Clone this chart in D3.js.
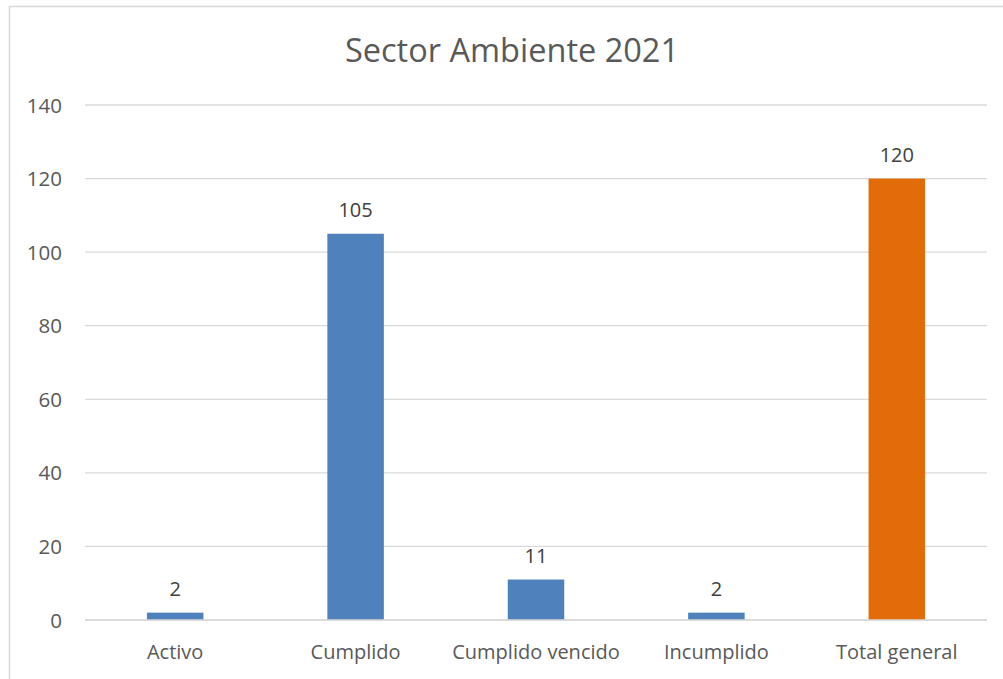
<!DOCTYPE html>
<html>
<head>
<meta charset="utf-8">
<script src="https://cdn.jsdelivr.net/npm/d3@7"></script>
<style>
  body { margin: 0; background: #fff; }
  svg text { font-family: "Open Sans", sans-serif; }
</style>
</head>
<body>
<div class="content"></div>
<script>
const SVG_W = 1003;
const SVG_H = 679;

// chart data
const categories = ["Activo", "Cumplido", "Cumplido vencido", "Incumplido", "Total general"];
const values = [2, 105, 11, 2, 120];
const barColors = ["#4f81bd", "#4f81bd", "#4f81bd", "#4f81bd", "#e36c0a"];
const yTicks = [0, 20, 40, 60, 80, 100, 120, 140];
const chartTitle = "Sector Ambiente 2021";

const svg = d3.select(".content").append("svg")
    .attr("width", SVG_W).attr("height", SVG_H);

// chart frame (runs off the right/bottom edge)
svg.append("rect")
    .attr("x", 9.5).attr("y", 6.5)
    .attr("width", SVG_W + 20).attr("height", SVG_H + 20)
    .attr("fill", "#fff").attr("stroke", "#d9d9d9").attr("stroke-width", 1.5);

// title
svg.append("text")
    .attr("x", 512).attr("y", 62)
    .attr("text-anchor", "middle")
    .attr("font-size", 32.5)
    .attr("fill", "#595959")
    .text(chartTitle);

const plotL = 85, plotR = 987, plotT = 105, plotB = 620;

const x = d3.scaleBand().domain(categories).range([plotL, plotR]);
const y = d3.scaleLinear().domain([0, 140]).range([plotB, plotT]);

// gridlines
svg.append("g").selectAll("line")
    .data(yTicks)
    .join("line")
    .attr("x1", plotL).attr("x2", plotR)
    .attr("y1", d => y(d)).attr("y2", d => y(d))
    .attr("stroke", "#d9d9d9").attr("stroke-width", 1.3);

// y labels
svg.append("g").selectAll("text")
    .data(yTicks)
    .join("text")
    .attr("x", 62).attr("y", d => y(d) + 7.5)
    .attr("text-anchor", "end")
    .attr("font-size", 20.5)
    .attr("fill", "#595959")
    .text(d => d);

// bars
const barW = 56.5;
svg.append("g").selectAll("rect")
    .data(values)
    .join("rect")
    .attr("x", (d, i) => x(categories[i]) + x.bandwidth() / 2 - barW / 2)
    .attr("y", d => y(d))
    .attr("width", barW)
    .attr("height", d => plotB - y(d))
    .attr("fill", (d, i) => barColors[i]);

// redraw the zero line on top of bars
svg.append("line")
    .attr("x1", plotL).attr("x2", plotR)
    .attr("y1", y(0)).attr("y2", y(0))
    .attr("stroke", "#d9d9d9").attr("stroke-width", 1.3);

// value labels
svg.append("g").selectAll("text")
    .data(values)
    .join("text")
    .attr("x", (d, i) => x(categories[i]) + x.bandwidth() / 2)
    .attr("y", d => y(d) - 17)
    .attr("text-anchor", "middle")
    .attr("font-size", 20)
    .attr("fill", "#404040")
    .text(d => d);

// category labels
svg.append("g").selectAll("text")
    .data(categories)
    .join("text")
    .attr("x", d => x(d) + x.bandwidth() / 2)
    .attr("y", 659)
    .attr("text-anchor", "middle")
    .attr("font-size", 20)
    .attr("fill", "#595959")
    .text(d => d);
</script>
</body>
</html>
